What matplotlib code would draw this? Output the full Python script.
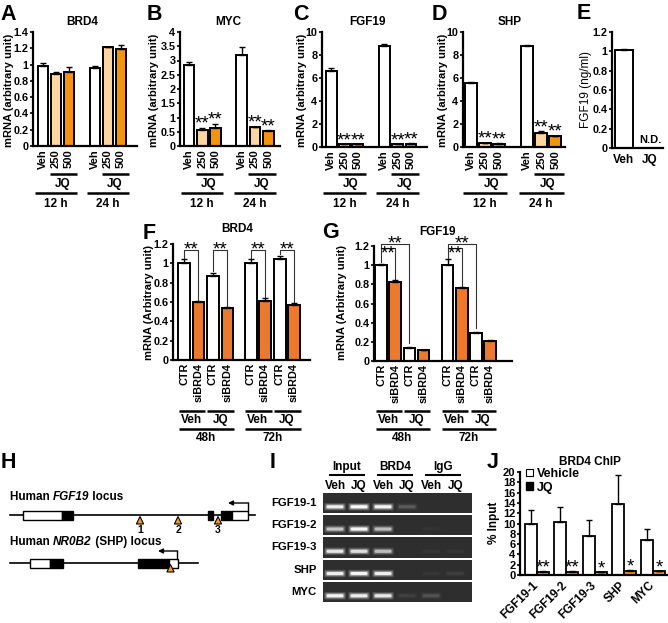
import numpy as np
import matplotlib
matplotlib.use('Agg')
import matplotlib.pyplot as plt
from matplotlib.transforms import Affine2D, blended_transform_factory
from matplotlib.patches import Rectangle, Polygon, Patch, FancyBboxPatch

plt.rcParams['font.family'] = ['Liberation Sans', 'DejaVu Sans']
plt.rcParams['font.weight'] = 'bold'
plt.rcParams['font.size'] = 8

# ---------------- data ----------------
top_labels = ['Veh', '250', '500', 'Veh', '250', '500']
time_labels = ['12 h', '24 h']
WHITE, LIGHT, ORANGE = 'white', '#FDD5A0', '#F29410'
top_colors = [WHITE, LIGHT, ORANGE, WHITE, LIGHT, ORANGE]
top_stars = ['', '**', '**', '', '**', '**']

brd4_A = [0.98, 0.88, 0.91, 0.96, 1.21, 1.19]
brd4_A_err = [0.04, 0.03, 0.06, 0.02, 0.01, 0.05]
myc_B = [2.85, 0.57, 0.62, 3.18, 0.65, 0.53]
myc_B_err = [0.08, 0.06, 0.15, 0.30, 0.03, 0.02]
fgf19_C = [6.6, 0.22, 0.22, 8.8, 0.22, 0.30]
fgf19_C_err = [0.30, 0.02, 0.02, 0.15, 0.02, 0.03]
shp_D = [5.6, 0.35, 0.30, 8.8, 1.20, 0.95]
shp_D_err = [0.04, 0.03, 0.03, 0.04, 0.15, 0.03]

E_labels = ['Veh', 'JQ']
fgf19_E = [1.01]
fgf19_E_err = [0.015]

si_labels = ['CTR', 'siBRD4'] * 4
si_colors = ['white', '#EC7A2E'] * 4
treat_labels = ['Veh', 'JQ', 'Veh', 'JQ']
si_time_labels = ['48h', '72h']
brd4_F = [1.00, 0.60, 0.87, 0.54, 1.00, 0.61, 1.04, 0.57]
brd4_F_err = [0.04, 0.01, 0.03, 0.01, 0.04, 0.03, 0.04, 0.015]
fgf19_G = [1.00, 0.82, 0.14, 0.11, 1.00, 0.76, 0.29, 0.21]
fgf19_G_err = [0.01, 0.025, 0.005, 0.003, 0.06, 0.01, 0.015, 0.01]

gel_rows = ['FGF19-1', 'FGF19-2', 'FGF19-3', 'SHP', 'MYC']
gel_groups = ['Input', 'BRD4', 'IgG']
gel_lanes = ['Veh', 'JQ', 'Veh', 'JQ', 'Veh', 'JQ']
gel_bands = [
    [0.85, 0.95, 0.90, 0.15, 0.00, 0.00],
    [0.60, 0.90, 0.55, 0.00, 0.02, 0.00],
    [0.80, 0.75, 0.55, 0.00, 0.03, 0.03],
    [0.85, 0.90, 0.85, 0.00, 0.03, 0.05],
    [0.90, 0.85, 0.80, 0.06, 0.12, 0.00],
]

chip_targets = ['FGF19-1', 'FGF19-2', 'FGF19-3', 'SHP', 'MYC']
chip_vehicle = [10.0, 10.2, 7.5, 13.8, 6.8]
chip_vehicle_err = [2.7, 3.0, 3.2, 5.6, 2.2]
chip_jq = [0.6, 0.6, 0.5, 0.8, 0.7]
chip_jq_err = [0.1, 0.1, 0.1, 0.15, 0.1]
chip_stars = ['**', '**', '*', '*', '*']

# schematic (pixel layout of the gene diagrams)
fgf19_line = (10, 255, 515)
fgf19_boxes = [(23, 62, 'white'), (62, 73, 'black'), (208, 213, 'black'),
               (221, 232, 'black'), (232, 248, 'white')]
fgf19_sites = [140, 178, 218]
fgf19_site_labels = ['1', '2', '3']
shp_line = (10, 198, 563)
shp_boxes = [(30, 50, 'white'), (50, 63, 'black'), (138, 169, 'black'), (169, 178, 'white')]
shp_sites = [170.5]

# ---------------- figure ----------------
W, H = 668, 623
fig = plt.figure(figsize=(W / 100, H / 100), dpi=100)
PX = Affine2D().scale(1 / W, -1 / H).translate(0, 1) + fig.transFigure
STAR = 13.5


def add_ax(x0, y0, x1, y1):
    return fig.add_axes([x0 / W, 1 - y1 / H, (x1 - x0) / W, (y1 - y0) / H])


def fmt(v):
    return f'{v:g}'


def style(ax, xlim, ylim, yticks, ysize=7.8):
    for s in ['top', 'right']:
        ax.spines[s].set_visible(False)
    for s in ['left', 'bottom']:
        ax.spines[s].set_linewidth(1.6)
    ax.set_xlim(*xlim)
    ax.set_ylim(*ylim)
    ax.set_yticks(yticks)
    ax.set_yticklabels([fmt(v) for v in yticks])
    ax.tick_params(axis='y', direction='out', length=2.5, width=1.2, pad=0.8, labelsize=ysize)
    ax.tick_params(axis='x', length=0, pad=2, labelsize=8)


def bars(ax, pos, vals, errs, colors, width):
    ax.bar(pos, vals, width=width, color=colors, edgecolor='black', linewidth=1.4, zorder=2)
    ax.errorbar(pos, vals, yerr=[np.zeros(len(vals)), errs], fmt='none', ecolor='black',
                elinewidth=1, capsize=2.2, capthick=1, zorder=3)


def star(ax, x, y, s, size=STAR, dy=-3.5):
    ax.annotate(s, (x, y), xytext=(0, dy), textcoords='offset points', ha='center',
                va='bottom', fontsize=size, fontweight='normal', annotation_clip=False)


def letter(x, y, s):
    fig.text(x, y, s, transform=PX, fontsize=15.5, fontweight='bold', ha='left', va='baseline')


def hline(ax, x0, x1, ypx, lw=1.8):
    tr = blended_transform_factory(ax.transData, PX)
    ax.plot([x0, x1], [ypx, ypx], transform=tr, color='k', lw=lw, clip_on=False,
            solid_capstyle='butt')


def label_px(ax, x, ypx, s, size=8.5):
    tr = blended_transform_factory(ax.transData, PX)
    ax.text(x, ypx, s, transform=tr, ha='center', va='center', fontsize=size)


def ylab(x, y, s, weight='bold', size=8):
    fig.text(x, y, s, transform=PX, rotation=90, ha='center', va='center',
             fontsize=size, fontweight=weight)


# ---------------- top row ----------------
top_pos = [0, 1, 2, 4, 5, 6]
top_specs = [
    ('A', (33, 32, 137, 146), (-0.77, 7.23), (0, 1.4), np.arange(0, 1.41, 0.2), brd4_A, brd4_A_err,
     'BRD4', 82, 9, False, (0, 20)),
    ('B', (180, 32, 280, 146), (-0.68, 6.9), (0, 4), np.arange(0, 4.01, 0.5), myc_B, myc_B_err,
     'MYC', 228, 154, True, (147, 20)),
    ('C', (322, 32, 427, 147), (-0.68, 7.2), (0, 10), np.arange(0, 10.1, 2), fgf19_C, fgf19_C_err,
     'FGF19', 367, 302, True, (293, 20)),
    ('D', (463, 32, 565, 147), (-0.57, 6.7), (0, 10), np.arange(0, 10.1, 2), shp_D, shp_D_err,
     'SHP', 510, 443, True, (432, 20)),
]
for (let, box, xlim, ylim, yt, vals, errs, title, tx, ylx, st, lxy) in top_specs:
    ax = add_ax(*box)
    bars(ax, top_pos, vals, errs, top_colors, 0.82)
    style(ax, xlim, ylim, yt)
    ax.set_xticks(top_pos)
    ax.set_xticklabels(top_labels, rotation=90)
    fig.text(tx, 22, title, transform=PX, ha='center', va='center', fontsize=8.5)
    ylab(ylx, 90, 'mRNA (arbitrary unit)')
    letter(lxy[0], lxy[1], let)
    if st:
        for p, v, e, s in zip(top_pos, vals, errs, top_stars):
            if s:
                star(ax, p, v + e, s)
    for g in range(2):
        p = top_pos[3 * g:3 * g + 3]
        hline(ax, p[1] - 0.5, p[2] + 0.6, 174)
        label_px(ax, (p[1] + p[2]) / 2, 184, 'JQ')
        hline(ax, p[0] - 0.6, p[2] + 0.6, 193)
        label_px(ax, p[1], 204, time_labels[g])

# panel E
axE = add_ax(612, 32, 663, 148)
bars(axE, [0], fgf19_E, fgf19_E_err, ['white'], 0.7)
style(axE, (-0.46, 1.5), (0, 1.2), np.arange(0, 1.21, 0.2))
axE.set_xticks([0, 1])
axE.set_xticklabels(E_labels, fontsize=8.5)
axE.tick_params(axis='x', pad=4)
axE.text(1, 0.03, 'N.D.', ha='center', va='bottom', fontsize=8)
ylab(586, 90, 'FGF19 (ng/ml)', weight='normal', size=8.5)
letter(577, 19, 'E')

# ---------------- F & G ----------------
def si_panel(box, pos, vals, errs, xlim, title, tx, ty, ylx, let, lxy):
    ax = add_ax(*box)
    bars(ax, pos, vals, errs, si_colors, 0.82)
    style(ax, xlim, (0, 1.2), np.arange(0, 1.21, 0.2))
    ax.set_xticks(pos)
    ax.set_xticklabels(si_labels, rotation=90, fontsize=7.8)
    fig.text(tx, ty, title, transform=PX, ha='center', va='center', fontsize=8.5)
    ylab(ylx, 302, 'mRNA (Arbitrary unit)')
    letter(lxy[0], lxy[1], let)
    for k in range(4):
        a, b = pos[2 * k], pos[2 * k + 1]
        hline(ax, a - 0.38, b + 0.45, 411)
        label_px(ax, (a + b) / 2, 420, treat_labels[k])
    for g in range(2):
        a, b = pos[4 * g], pos[4 * g + 3]
        hline(ax, a - 0.38, b + 0.45, 429)
        label_px(ax, (a + b) / 2, 438, si_time_labels[g])
    return ax


def bracket(ax, x0, x1, y, y0, y1, lw=0.8):
    ax.plot([x0, x0, x1, x1], [y0, y, y, y1], color='#333333', lw=lw, clip_on=False)


posF = [0, 1, 2, 3, 4.6, 5.6, 6.6, 7.6]
axF = si_panel((173, 244, 310, 360), posF, brd4_F, brd4_F_err, (-0.76, 8.7), 'BRD4', 237, 229, 149,
               'F', (143, 239))
for k in range(4):
    a, b = 2 * k, 2 * k + 1
    bracket(axF, posF[a], posF[b], 1.14, brd4_F[a] + brd4_F_err[a] + 0.02,
            brd4_F[b] + brd4_F_err[b] + 0.01)
    star(axF, (posF[a] + posF[b]) / 2, 1.14, '**', dy=-6.5)

posG = [0, 1, 2, 3, 4.7, 5.7, 6.7, 7.7]
axG = si_panel((374, 246, 512, 361), posG, fgf19_G, fgf19_G_err, (-0.5, 9.25), 'FGF19', 437, 232, 342,
               'G', (322, 238))
for g in range(2):
    a = 4 * g
    bracket(axG, posG[a], posG[a + 2], 1.225, fgf19_G[a] + fgf19_G_err[a] + 0.02,
            fgf19_G[a + 2] + fgf19_G_err[a + 2] + 0.04)
    star(axG, posG[a + 1], 1.225, '**', dy=-6.5)
    bracket(axG, posG[a], posG[a + 1], 1.18, 1.18, fgf19_G[a + 1] + fgf19_G_err[a + 1] + 0.01)
    axG.annotate('**', (posG[a] + 0.5, 1.17), xytext=(0, 2.5), textcoords='offset points',
                 ha='center', va='top', fontsize=STAR, fontweight='normal', annotation_clip=False)

# ---------------- H schematic ----------------
axH = add_ax(0, 475, 262, 605)
axH.set_xlim(0, 262)
axH.set_ylim(605, 475)
axH.axis('off')
letter(1, 468, 'H')


def locus(line, boxes, sites, arrow_x, y_text, parts):
    x0, x1, y = line
    axH.plot([x0, x1], [y, y], color='k', lw=1.2, zorder=1)
    for a, b, c in boxes:
        axH.add_patch(Rectangle((a, y - 4.5), b - a, 9, facecolor=c, edgecolor='k', lw=1, zorder=2))
    for sx in sites:
        axH.add_patch(Polygon([[sx, y + 1.5], [sx - 3.6, y + 9], [sx + 3.6, y + 9]], closed=True,
                              facecolor='#F0A020', edgecolor='k', lw=0.8, zorder=3))
    ax_, tip = arrow_x
    axH.plot([ax_, ax_], [y - 4.5, y - 12], color='k', lw=1, zorder=2)
    axH.annotate('', xy=(tip, y - 12), xytext=(ax_ + 0.5, y - 12),
                 arrowprops=dict(arrowstyle='-|>', lw=1, color='k', mutation_scale=7,
                                 shrinkA=0, shrinkB=0))
    t = axH.text(10, y_text, parts[0][0], fontsize=8.5, fontstyle=parts[0][1], va='bottom', ha='left')
    for s, st in parts[1:]:
        t = axH.annotate(s, xy=(1, 0), xycoords=t, fontsize=8.5, fontstyle=st, va='bottom', ha='left')


locus(fgf19_line, fgf19_boxes, fgf19_sites, (248, 228), 503,
      [('Human ', 'normal'), ('FGF19', 'italic'), (' locus', 'normal')])
for sx, s in zip(fgf19_sites, fgf19_site_labels):
    axH.text(sx, 530, s, ha='center', va='center', fontsize=7.5)
locus(shp_line, shp_boxes, shp_sites, (177, 158), 548,
      [('Human ', 'normal'), ('NR0B2', 'italic'), (' (SHP) locus', 'normal')])

# ---------------- I gel ----------------
axI = add_ax(323, 493, 472, 602)
axI.set_xlim(-0.5, 5.7)
axI.set_ylim(4.45, -0.45)
axI.axis('off')
letter(270, 468, 'I')
for r, name in enumerate(gel_rows):
    axI.add_patch(Rectangle((-0.5, r - 0.45), 6.2, 0.9, facecolor='#2e2e2e', edgecolor='none'))
    for ln, v in enumerate(gel_bands[r]):
        if v <= 0:
            continue
        for wd, ht, al in [(0.9, 0.34, 0.18), (0.8, 0.24, 0.4), (0.7, 0.14, 1.0)]:
            axI.add_patch(FancyBboxPatch((ln - wd / 2, r + 0.17 - ht / 2), wd, ht,
                                         boxstyle='round,pad=0,rounding_size=0.06',
                                         facecolor='white', edgecolor='none', alpha=al * v))
    trI = blended_transform_factory(PX, axI.transData)
    axI.text(317, r, name, transform=trI, ha='right', va='center', fontsize=8.2, clip_on=False)
for ln, s in enumerate(gel_lanes):
    label_px(axI, ln, 486, s, size=8.5)
for g, s in enumerate(gel_groups):
    a, b = 2 * g, 2 * g + 1
    label_px(axI, (a + b) / 2, 467, s, size=8.5)
    hline(axI, a - 0.25, b + 0.25, 475, lw=1.5)

# ---------------- J ChIP ----------------
axJ = add_ax(520, 472, 667, 575)
posJ = np.arange(len(chip_targets))
bw = 0.41
axJ.bar(posJ - bw / 2, chip_vehicle, width=bw, color='white', edgecolor='k', lw=1.3, zorder=2,
        label='Vehicle')
axJ.errorbar(posJ - bw / 2, chip_vehicle, yerr=[np.zeros(5), chip_vehicle_err], fmt='none',
             ecolor='k', elinewidth=1, capsize=2.2, capthick=1, zorder=3)
axJ.bar(posJ + bw / 2, chip_jq, width=bw, color=ORANGE, edgecolor='k', lw=1.3, zorder=2)
axJ.errorbar(posJ + bw / 2, chip_jq, yerr=[np.zeros(5), chip_jq_err], fmt='none',
             ecolor='k', elinewidth=1, capsize=2, capthick=1, zorder=3)
style(axJ, (-0.59, 4.48), (0, 20), np.arange(0, 20.1, 2), ysize=8)
axJ.set_xticks(posJ - 0.17)
axJ.set_xticklabels(chip_targets, rotation=45, ha='right', va='top', rotation_mode='anchor',
                    fontsize=8.5)
axJ.tick_params(axis='x', pad=3)
for p, v, e, s in zip(posJ, chip_jq, chip_jq_err, chip_stars):
    star(axJ, p + bw / 2, v + e, s, dy=-4)
axJ.legend(handles=[Patch(facecolor='white', edgecolor='k', lw=0.8, label='Vehicle'),
                    Patch(facecolor='black', edgecolor='k', label='JQ')],
           loc='upper left', bbox_to_anchor=(0.04, 1.04), frameon=False, fontsize=9,
           handlelength=0.6, handleheight=0.6, handletextpad=0.3, labelspacing=0.15,
           borderpad=0, borderaxespad=0)
fig.text(590, 462, 'BRD4 ChIP', transform=PX, ha='center', va='center', fontsize=8.5)
ylab(494, 523, '% Input', size=8.5)
letter(487, 468, 'J')

fig.savefig('out.png', dpi=100)
